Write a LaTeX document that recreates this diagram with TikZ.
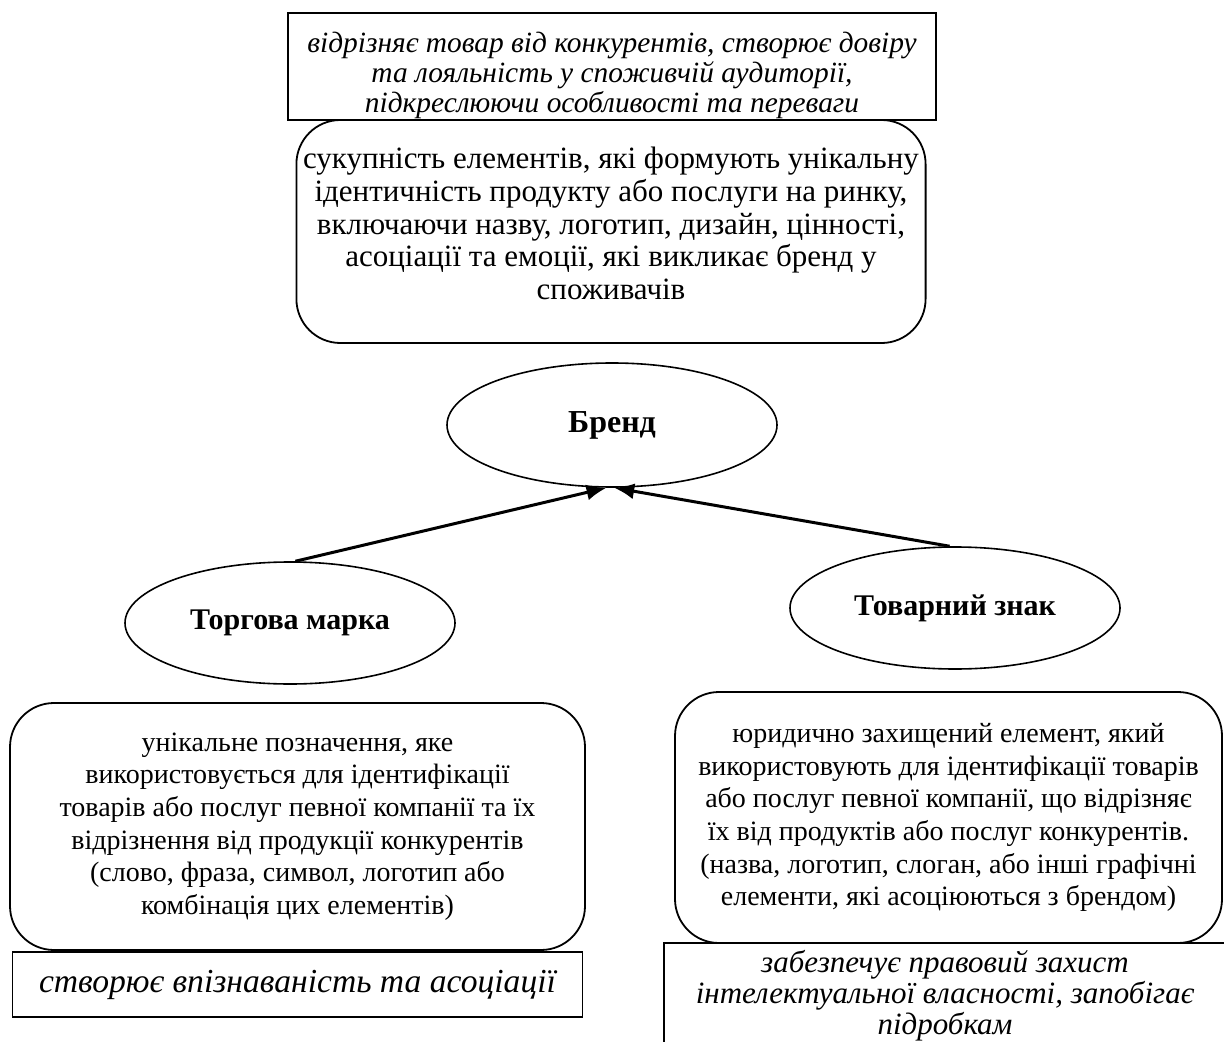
\documentclass[tikz,border=0pt]{standalone}
\usepackage{fontspec}
\setmainfont{Liberation Serif}
\usetikzlibrary{shapes.geometric,arrows.meta}

\begin{document}
\begin{tikzpicture}[x=0.5pt,y=-0.5pt,
main/.style = {draw, ellipse, line width=0.8pt, minimum width=165pt, minimum height=61pt, inner sep=0pt, font=\fontsize{15}{16}\selectfont\bfseries},
rbox/.style = {draw, line width=0.9pt, rounded corners=22pt, align=center, font=\fontsize{14}{16.35}\selectfont},
note/.style = {draw, line width=0.9pt, align=center, inner ysep=0pt, font=\fontsize{14.7}{15}\selectfont\itshape},
link/.style = {-{Latex[length=10pt,width=8pt]}, line width=1.5pt},
node distance={79pt}]
\useasboundingbox (0,0) rectangle (1224,1042);
\node[note, minimum width=324pt, minimum height=53.5pt] (1) at (612,66.5) {\rule{0pt}{19pt}відрізняє товар від конкурентів, створює довіру\\та лояльність у споживчій аудиторії,\\підкреслюючи особливості та переваги};
\node[rbox, minimum width=314pt, minimum height=111.5pt, font=\fontsize{15.5}{16.35}\selectfont] (2) at (611,231.5) {сукупність елементів, які формують унікальну\\ідентичність продукту або послуги на ринку,\\включаючи назву, логотип, дизайн, цінності,\\асоціації та емоції, які викликає бренд у\\споживачів\rule[-8pt]{0pt}{0pt}};
\node[main, minimum height=62pt, font=\fontsize{16}{16}\selectfont\bfseries] (3) at (612,425) {Бренд};
\node[main] (4) at (290,623) {Торгова марка};
\node[main] (5) at (955,608) {Товарний знак};
\node[rbox, minimum width=287.5pt, minimum height=123.5pt] (6) at (297.5,826.5) {унікальне позначення, яке\\використовується для ідентифікації\\товарів або послуг певної компанії та їх\\відрізнення від продукції конкурентів\\(слово, фраза, символ, логотип або\\комбінація цих елементів)};
\node[note, minimum width=285pt, minimum height=32.5pt, font=\fontsize{16.8}{17}\selectfont\itshape] (7) [below of=6] {створює впізнаваність та асоціації};
\node[rbox, minimum width=273.5pt, minimum height=125.5pt] (8) at (948.5,817.5) {юридично захищений елемент, який\\використовують для ідентифікації товарів\\або послуг певної компанії, що відрізняє\\їх від продуктів або послуг конкурентів.\\(назва, логотип, слоган, або інші графічні\\елементи, які асоціюються з брендом)};
\node[note, minimum width=281pt, minimum height=53pt, font=\fontsize{15.5}{13}\selectfont\itshape] (9) at (945,996) {забезпечує правовий захист\\інтелектуальної власності, запобігає\\підробкам};
\draw[link] (4.85) -- (3.265);
\draw[link] (5.95) -- (3.272);
\end{tikzpicture}
\end{document}
